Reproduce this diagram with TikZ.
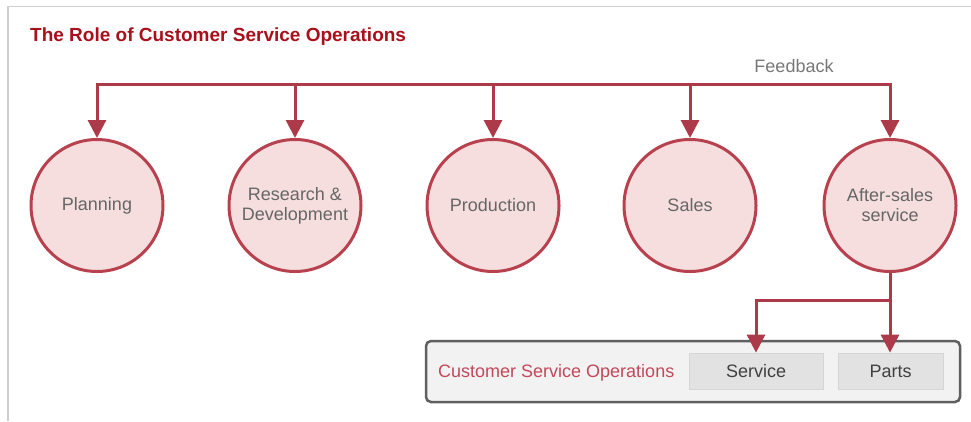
\documentclass[tikz,border=0pt]{standalone}
\usepackage{fontspec}
\setmainfont{Liberation Sans}
\usetikzlibrary{arrows.meta,positioning}
\definecolor{titlered}{HTML}{A8101C}
\definecolor{linered}{HTML}{AD3A48}
\definecolor{circfill}{HTML}{F6DEDE}
\definecolor{circline}{HTML}{B8414F}
\definecolor{txtgray}{HTML}{666666}
\definecolor{fbgray}{HTML}{777777}
\definecolor{boxline}{HTML}{5F5F5F}
\definecolor{boxfill}{HTML}{F2F2F2}
\definecolor{subfill}{HTML}{E2E2E2}
\definecolor{subline}{HTML}{D5D5D5}
\definecolor{csored}{HTML}{C2485A}
\definecolor{framegray}{HTML}{D0D0D0}
\tikzset{
  stage/.style={circle, draw=circline, fill=circfill, line width=3pt, minimum size=132pt,
    inner sep=0pt, align=center, text=txtgray, font=\fontsize{18}{20}\selectfont},
  feed/.style={draw=linered, line width=3pt, -{Triangle[width=18pt,length=18pt]}},
  bus/.style={draw=linered, line width=3pt},
  subbox/.style={draw=subline, fill=subfill, line width=0.8pt, inner sep=0pt,
    text=black!75, font=\fontsize{18}{20}\selectfont},
}
\begin{document}
\begin{tikzpicture}[x=1pt,y=-1pt]
\useasboundingbox (0,0) rectangle (971,421);
% frame
\draw[framegray, line width=1.5pt] (8,421) -- (8,6.5) -- (971,6.5);
% title
\node[anchor=base west, inner sep=0pt, text=titlered, font=\bfseries\fontsize{19}{22}\selectfont]
  (title) at (30,41) {The Role of Customer Service Operations};
\node[anchor=base, inner sep=0pt, text=fbgray, font=\fontsize{18}{20}\selectfont]
  (fb) at (794,72) {Feedback};
% circles
\node[stage] (plan) at (97,205.5) {Planning};
\node[stage] (rd) at (295,205.5) {Research \&\\Development};
\node[stage] (prod) at (493,205.5) {Production};
\node[stage] (sales) at (690,205.5) {Sales};
\node[stage] (as) at (890,205.5) {After-sales\\service};
% feedback bus
\coordinate (b1) at (97,84);
\coordinate (b2) at (295,84);
\coordinate (b3) at (493,84);
\coordinate (b4) at (690,84);
\coordinate (b5) at (890,84);
\draw[bus, line cap=rect] (b1) -- (b5);
\draw[feed] (b1) -- (plan.north);
\draw[feed] (b2) -- (rd.north);
\draw[feed] (b3) -- (prod.north);
\draw[feed] (b4) -- (sales.north);
\draw[feed] (b5) -- (as.north);
% bottom box
\node[draw=boxline, fill=boxfill, line width=2.5pt, rounded corners=5pt,
  minimum width=534pt, minimum height=61pt, inner sep=0pt] (cso) at (693,371.5) {};
\node[anchor=base west, inner sep=0pt, text=csored, font=\fontsize{18}{20}\selectfont]
  (csot) at (438,377) {Customer Service Operations};
\node[subbox, minimum width=134pt, minimum height=36pt] (service) at (756,371) {Service};
\node[subbox, minimum width=105pt, minimum height=36pt] (parts) at (890.5,371) {Parts};
% links to service and parts
\coordinate (j) at (890,300);
\draw[bus] (as.south) -- (j);
\draw[feed] (j) -| (service.north);
\draw[feed] (as.south) -- (parts.north -| as.south);
\end{tikzpicture}
\end{document}
